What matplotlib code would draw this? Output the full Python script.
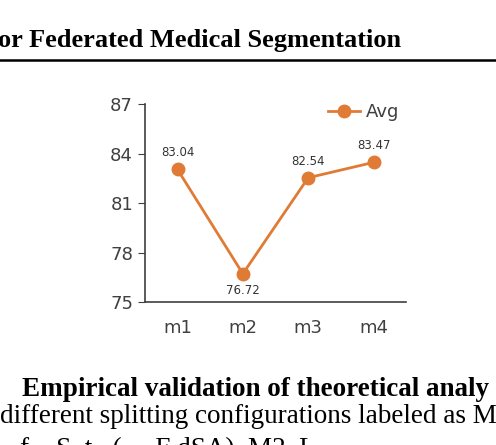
import matplotlib.pyplot as plt

configs = ["m1", "m2", "m3", "m4"]
avg = [83.04, 76.72, 82.54, 83.47]
yticks = [75, 78, 81, 84, 87]

fig = plt.figure(figsize=(4.96, 4.45), dpi=100)
ax = fig.add_axes([0.292, 0.321, 0.527, 0.445])

c = "#E07B35"
ax.plot(range(len(configs)), avg, color=c, lw=2, marker="o", ms=9, label="Avg")
for i, v in enumerate(avg):
    off = -12 if v < 80 else 12
    ax.annotate(f"{v:.2f}", (i, v), xytext=(0, off), textcoords="offset points",
                ha="center", va="center", fontsize=8.5, color="#333333")

ax.set_xlim(-0.5, 3.5)
ax.set_ylim(75, 87)
ax.set_yticks(yticks)
ax.set_xticks(range(len(configs)))
ax.set_xticklabels(configs)
ax.tick_params(axis="x", length=0, pad=12, labelsize=13, colors="#404040")
ax.tick_params(axis="y", length=5, labelsize=13, colors="#404040", color="#404040")
for s in ["top", "right"]:
    ax.spines[s].set_visible(False)
for s in ["left", "bottom"]:
    ax.spines[s].set_color("#404040")
    ax.spines[s].set_linewidth(1.2)
ax.legend(loc="upper right", frameon=False, fontsize=13, handlelength=1.8,
          borderaxespad=0.0, labelcolor="#404040", handletextpad=0.3,
          bbox_to_anchor=(1.0, 1.04))

serif = "Liberation Serif"
fig.text(-0.005, 0.908, "or Federated Medical Segmentation", family=serif,
         weight="bold", fontsize=19, va="center")
fig.add_artist(plt.Line2D([0, 1], [0.866, 0.866], color="black", lw=1.8))
fig.text(0.044, 0.125, "Empirical validation of theoretical analy", family=serif,
         weight="bold", fontsize=19.5, va="center")
fig.text(0.0, 0.065, "different splitting configurations labeled as M", family=serif,
         fontsize=19.5, va="center")
fig.text(0.04, -0.01, "f    S  t   (     F dSA)  M2  L", family=serif,
         fontsize=19.5, va="center")

fig.savefig("out.png", dpi=100)
